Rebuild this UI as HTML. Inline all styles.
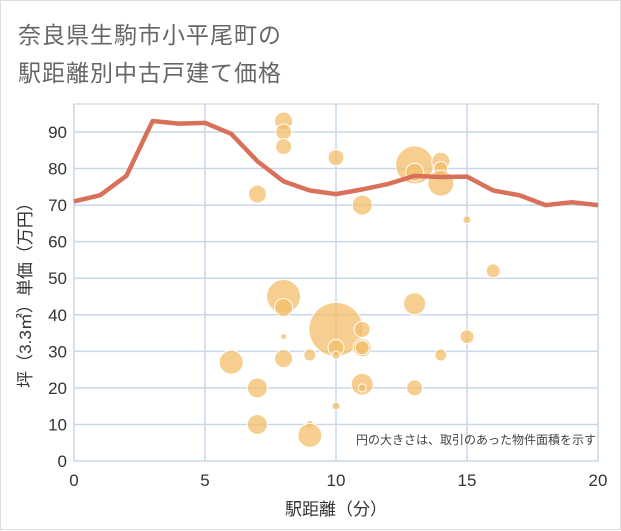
<!DOCTYPE html>
<html><head><meta charset="utf-8"><style>
body{margin:0;background:#fff}
#c{position:relative;width:621px;height:530px;border:1px solid #ddd;box-sizing:border-box;font-family:"Liberation Sans","Noto Sans CJK JP",sans-serif}
.t{position:absolute;left:17px;font-size:23px;color:#666;letter-spacing:1px}
</style></head><body>
<div id="c">
<div class="t" style="top:15px">奈良県生駒市小平尾町の</div>
<div class="t" style="top:53px">駅距離別中古戸建て価格</div>
<svg id="s" width="621" height="530" style="position:absolute;left:0;top:0"></svg>
</div>
<script>
const lineX=[0,1,2,3,4,5,6,7,8,9,10,11,12,13,14,15,16,17,18,19,20];
const lineY=[71,72.7,78,93,92.3,92.5,89.5,82,76.5,74,73,74.3,75.8,78,77.7,77.8,74,72.7,70,70.8,70];
const bubX=[8,8,8,10,7,11,13,13,14,14,14,15,16,8,8,13,10,11,8,15,10,11,11,6,8,9,10,14,7,11,11,13,10,7,9,9];
const bubY=[93,90,86,83,73,70,81,79,82,80,76,66,52,45,42,43,36,36,34,34,31,31,31,27,28,29,29,29,20,21,20,20,15,10,10,7];
const bubR=[9,8,8,8,9,10,19,9,9,7,13,4,7,17,9,11,27,8,3,7,8,9,7,12,9,6,4,6,10,11,4,8,4,10,4,12];
const xTicks=[0,5,10,15,20];
const yTicks=[0,10,20,30,40,50,60,70,80,90];
const NS="http://www.w3.org/2000/svg",s=document.getElementById('s');
const L=73,R=597,T=103,B=460;
const xs=v=>L+(v/20)*(R-L), ys=v=>B-(v/90)*(B-131);
function mk(t,a,p){const e=document.createElementNS(NS,t);for(const k in a)e.setAttribute(k,a[k]);(p||s).appendChild(e);return e;}
const fr=mk('rect',{x:L,y:T,width:R-L,height:B-T,fill:'none',stroke:'#ccc'});


xTicks.forEach(v=>{const g=mk('line',{x1:xs(v),x2:xs(v),y1:T,y2:B,stroke:'#c9d7e8','stroke-width':1.5});});
yTicks.forEach(v=>{const g=mk('line',{x1:L,x2:R,y1:ys(v),y2:ys(v),stroke:'#c9d7e8','stroke-width':1.5});});
xTicks.forEach(v=>{const t=mk('text',{x:xs(v),y:485,'text-anchor':'middle','font-size':17,fill:'#333'});t.textContent=v;});
yTicks.forEach(v=>{const t=mk('text',{x:66,y:ys(v)+6,'text-anchor':'end','font-size':17,fill:'#333'});t.textContent=v;});
const xt=mk('text',{x:335,y:514,'text-anchor':'middle','font-size':17,fill:'#333'});xt.textContent='駅距離（分）';


const yt=mk('text',{x:0,y:0,'text-anchor':'middle','font-size':17,fill:'#333',transform:'translate(30,290) rotate(-90)'});yt.textContent='坪（3.3㎡）単価（万円）';


bubX.forEach((x,i)=>{const c=mk('circle',{cx:xs(x),cy:ys(bubY[i]),r:bubR[i],fill:'rgba(243,190,105,0.75)',stroke:'#fff','stroke-width':1});});
const pl=mk('polyline',{points:lineX.map((x,i)=>xs(x)+','+ys(lineY[i])).join(' '),fill:'none',stroke:'#d9705a','stroke-width':4.5,'stroke-linejoin':'round'});


const n=mk('text',{x:595,y:443,'text-anchor':'end','font-size':12,fill:'#444'});n.textContent='円の大きさは、取引のあった物件面積を示す';


</script>
</body></html>
